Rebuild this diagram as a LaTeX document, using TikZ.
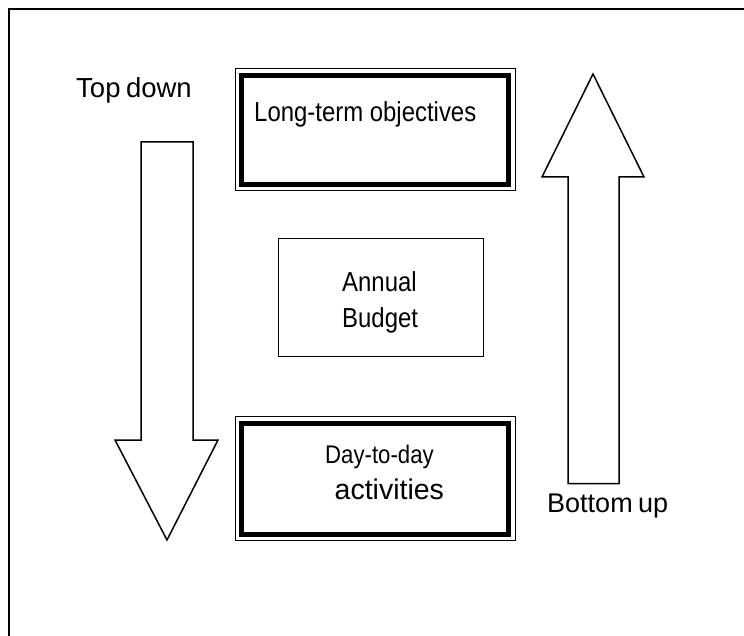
\documentclass[tikz,border=0pt]{standalone}
\usepackage{fontspec}
\setmainfont{Liberation Sans}
\newfontfamily\narrowsans{Liberation Sans}[FakeStretch=0.87]
\usetikzlibrary{calc}
\begin{document}
\begin{tikzpicture}[x=1pt,y=-1pt,
  frameline/.style={line width=1.5pt, line cap=rect},
  lbl/.style={inner sep=0pt, anchor=base west, font={\narrowsans\fontsize{27.5}{30}\selectfont}},
  biglbl/.style={inner sep=0pt, anchor=base west, font={\fontsize{28.5}{32}\selectfont}},
  sidelbl/.style={inner sep=0pt, anchor=base west, font={\fontsize{27.5}{30}\selectfont\spaceskip 0.2em\relax}},
  plainbox/.style={draw, line width=1pt, inner sep=0pt, outer sep=0pt},
  framedbox/.style={draw, line width=1pt, inner sep=0pt, outer sep=0pt,
    append after command={
      \pgfextra{\draw[line width=5pt]
        ($(\tikzlastnode.north west)+(6.5,6.5)$) rectangle
        ($(\tikzlastnode.south east)+(-6.5,-6.5)$);}}},
  bigarrow/.style={draw, line width=1.5pt, line join=miter, fill=white}]
\useasboundingbox (0,0) rectangle (744,636);

% outer frame
\draw[frameline] (9,636) -- (9,9) -- (744,9);

% boxes
\node[framedbox, minimum width=280pt, minimum height=122pt] (obj) at (375,130) {};
\node[lbl] (objtxt) at (254,121.5) {Long-term objectives};

\node[plainbox, minimum width=205pt, minimum height=117pt] (bud) at (380.5,297.5) {};
\node[lbl] (budtxt1) at (342,291) {Annual};
\node[lbl] (budtxt2) at (342,327) {Budget};

\node[framedbox, minimum width=280pt, minimum height=124pt] (act) at (375,478.5) {};
\node[lbl, font={\narrowsans\fontsize{25.5}{30}\selectfont}] (acttxt1) at (325,463) {Day-to-day};
\node[biglbl] (acttxt2) at (334.5,499) {activities};

% block arrows
\draw[bigarrow] (141,142) -- (193,142) -- (193,440) -- (218,440) -- (167,540)
  -- (115,440) -- (141,440) -- cycle;
\draw[bigarrow] (568,483.5) -- (568,177) -- (542,177) -- (593,74) -- (644,177)
  -- (619,177) -- (619,483.5) -- cycle;

\node[sidelbl] (down) at (76,98) {Top down};
\node[sidelbl, font={\fontsize{27}{30}\selectfont\spaceskip 0.2em\relax}] (up) at (547,512) {Bottom up};
\end{tikzpicture}
\end{document}
